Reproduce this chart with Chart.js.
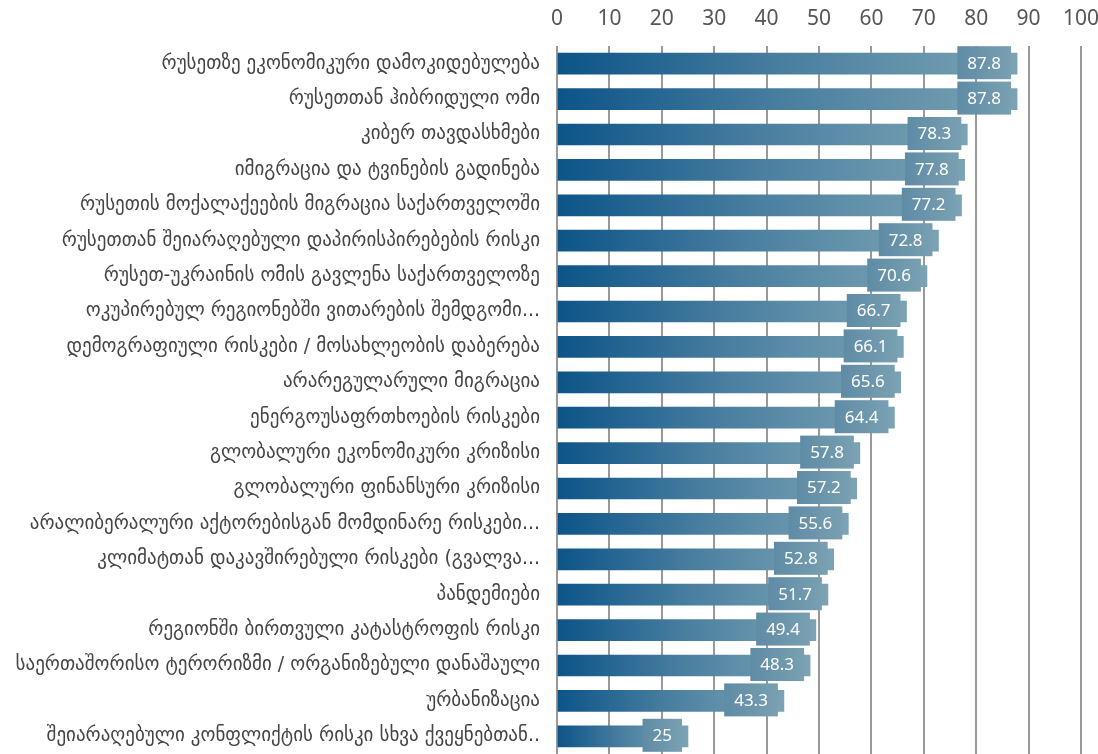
<!DOCTYPE html>
<html>
<head>
<meta charset="utf-8">
<script src="https://cdn.jsdelivr.net/npm/chart.js@4"></script>
<style>
  html, body { margin: 0; padding: 0; background: #fff; overflow: hidden; }
  canvas { display: block; }
</style>
</head>
<body>
<canvas id="riskChart" width="1098" height="754"></canvas>
<script>
const categories = [
  "რუსეთზე ეკონომიკური დამოკიდებულება",
  "რუსეთთან ჰიბრიდული ომი",
  "კიბერ თავდასხმები",
  "იმიგრაცია და ტვინების გადინება",
  "რუსეთის მოქალაქეების მიგრაცია საქართველოში",
  "რუსეთთან შეიარაღებული დაპირისპირებების რისკი",
  "რუსეთ-უკრაინის ომის გავლენა საქართველოზე",
  "ოკუპირებულ რეგიონებში ვითარების შემდგომი...",
  "დემოგრაფიული რისკები / მოსახლეობის დაბერება",
  "არარეგულარული მიგრაცია",
  "ენერგოუსაფრთხოების რისკები",
  "გლობალური ეკონომიკური კრიზისი",
  "გლობალური ფინანსური კრიზისი",
  "არალიბერალური აქტორებისგან მომდინარე რისკები...",
  "კლიმატთან დაკავშირებული რისკები (გვალვა...",
  "პანდემიები",
  "რეგიონში ბირთვული კატასტროფის რისკი",
  "საერთაშორისო ტერორიზმი / ორგანიზებული დანაშაული",
  "ურბანიზაცია",
  "შეიარაღებული კონფლიქტის რისკი სხვა ქვეყნებთან.."
];
const values = [87.8, 87.8, 78.3, 77.8, 77.2, 72.8, 70.6, 66.7, 66.1, 65.6, 64.4, 57.8, 57.2, 55.6, 52.8, 51.7, 49.4, 48.3, 43.3, 25];
const xTicks = [0, 10, 20, 30, 40, 50, 60, 70, 80, 90, 100];

const numFont = "'Noto Sans', 'DejaVu Sans', sans-serif";

// gradient along each bar, from the axis to the bar end
function barGradient(ctx) {
  const chart = ctx.chart;
  const area = chart.chartArea;
  if (!area || !chart.scales.x) return "#3f7598";
  const x0 = chart.scales.x.getPixelForValue(0);
  const x1 = chart.scales.x.getPixelForValue(ctx.raw);
  const g = chart.ctx.createLinearGradient(x0, 0, Math.max(x1, x0 + 1), 0);
  g.addColorStop(0, "#0c5488");
  g.addColorStop(0.5, "#4a7fa0");
  g.addColorStop(1, "#7ba3b4");
  return g;
}

// value boxes drawn over the bar ends
const valueBoxes = {
  id: "valueBoxes",
  afterDatasetsDraw(chart) {
    const c = chart.ctx;
    const meta = chart.getDatasetMeta(0);
    c.save();
    c.font = "17px " + numFont;
    c.textAlign = "center";
    c.textBaseline = "middle";
    meta.data.forEach((bar, i) => {
      const txt = String(values[i]);
      const w = c.measureText(txt).width + 20;
      const h = 33;
      const right = bar.x - 6;
      const left = right - w;
      const top = bar.y - h / 2 - 1;
      const g = c.createLinearGradient(left, 0, right, 0);
      g.addColorStop(0, "#5f8ba6");
      g.addColorStop(1, "#79a0b1");
      c.fillStyle = g;
      c.fillRect(left, top, w, h);
      c.fillStyle = "#ffffff";
      c.fillText(txt, left + w / 2, top + h / 2 + 1);
    });
    c.restore();
  }
};

new Chart(document.getElementById("riskChart"), {
  type: "bar",
  data: {
    labels: categories,
    datasets: [{
      data: values,
      backgroundColor: barGradient,
      barThickness: 21,
      borderWidth: 0
    }]
  },
  options: {
    indexAxis: "y",
    responsive: false,
    animation: false,
    layout: { padding: { left: 0, right: 17, top: 0, bottom: 0 } },
    plugins: {
      legend: { display: false },
      tooltip: { enabled: false }
    },
    scales: {
      x: {
        position: "top",
        min: 0,
        max: 100,
        afterBuildTicks(scale) { scale.ticks = xTicks.map(v => ({ value: v })); },
        afterFit(scale) {
          scale.height = 46;
          scale.paddingLeft = 0;
          scale.paddingRight = 0;
        },
        border: { display: false },
        grid: { color: "#999999", lineWidth: 2, drawTicks: false },
        ticks: {
          color: "#555555",
          padding: 14,
          font: { family: numFont, size: 21 }
        }
      },
      y: {
        afterFit(scale) {
          scale.width = 557;
          scale.paddingTop = 0;
          scale.paddingBottom = 0;
        },
        border: { display: false },
        grid: { display: false },
        ticks: {
          color: "#444444",
          padding: 9,
          autoSkip: false,
          font: { family: "'DejaVu Sans', sans-serif", size: 19 }
        }
      }
    }
  },
  plugins: [valueBoxes]
});
</script>
</body>
</html>
